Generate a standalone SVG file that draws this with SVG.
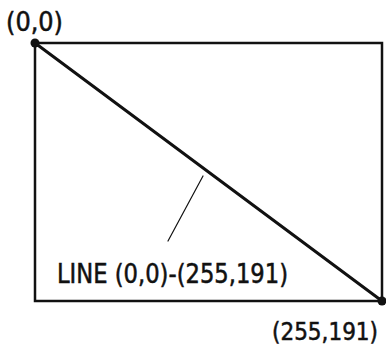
<svg xmlns="http://www.w3.org/2000/svg" width="386" height="351" viewBox="0 0 386 351">
<style>
.t{font-family:"DejaVu Sans Condensed","Liberation Sans",sans-serif;fill:#111;stroke:#111;stroke-width:0.5;}
.e{stroke:#111;fill:none;stroke-linecap:round;}
</style>
<rect width="386" height="351" fill="#fff"/>
<g id="screen">
<rect x="35" y="43" width="347" height="258" class="e" stroke-width="2.5"/>
</g>
<g id="connectors">
<line x1="35" y1="43" x2="382" y2="301" class="e" stroke-width="3"/>
<line x1="203" y1="176" x2="168" y2="241" class="e" stroke-width="1.2"/>
</g>
<g id="p00">
<circle cx="35" cy="43" r="4.5" fill="#111"/>
<text class="t" x="6" y="31" font-size="26" textLength="57" lengthAdjust="spacingAndGlyphs">(0,0)</text>
</g>
<g id="p255">
<circle cx="382" cy="301" r="4.5" fill="#111"/>
<text class="t" x="272" y="340" font-size="24" textLength="106" lengthAdjust="spacingAndGlyphs">(255,191)</text>
</g>
<g id="label">
<text class="t" x="57" y="283" font-size="26" textLength="231" lengthAdjust="spacingAndGlyphs">LINE (0,0)-(255,191)</text>
</g>
</svg>
